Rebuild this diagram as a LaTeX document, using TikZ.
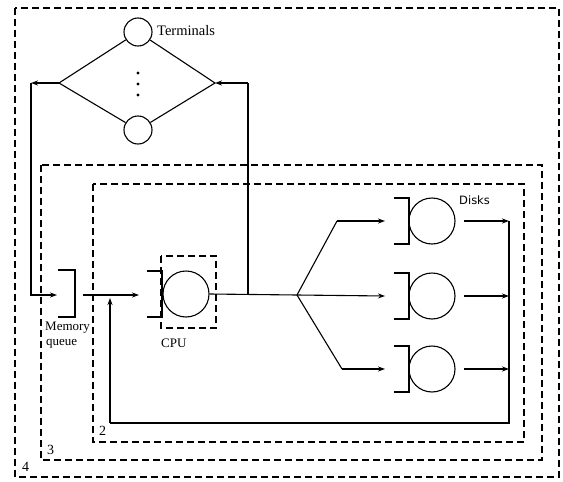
\documentclass[tikz,border=0pt]{standalone}
\usepackage{fontspec}
\setmainfont{Liberation Serif}
\setsansfont{DejaVu Sans}
\usetikzlibrary{arrows.meta}
\begin{document}
\begin{tikzpicture}[x=1pt,y=-1pt,
  ln/.style={line width=1.1pt},
  arr/.style={ln,-{Stealth[length=7pt,width=5pt]}},
  dbox/.style={line width=1.1pt,dash pattern=on 7pt off 4pt},
  term/.style={circle,draw,line width=1.1pt,minimum size=28pt,inner sep=0pt},
  srv/.style={circle,draw,line width=1.1pt,minimum size=46pt,inner sep=0pt},
  lbl/.style={inner sep=0pt,font=\fontsize{13}{15}\selectfont},
  num/.style={inner sep=0pt,font=\fontsize{14}{15}\selectfont}]
\useasboundingbox (0,0) rectangle (563,482);
% dashed boxes
\draw[dbox] (15,8) rectangle (559,477);
\draw[dbox] (41,165) rectangle (542,460);
\draw[dbox] (93,184) rectangle (524,442);
\draw[dbox] (161,256) rectangle (216,328);
% terminals
\node[term] (t1) at (138,32) {};
\node[term] (t2) at (138,130) {};
\coordinate (dl) at (59,83);
\coordinate (dr) at (215,83);
\draw[ln] (dl) -- (t1) (t1) -- (dr) -- (t2) (t2) -- (dl);
\fill (138,73) circle (1.6pt) (138,84) circle (1.6pt) (138,95) circle (1.6pt);
\node[lbl,anchor=west,font=\fontsize{14.5}{16}\selectfont] (tl) at (157,31) {Terminals};
% memory queue
\draw[ln] (58,270) -- (75,270) -- (75,317) -- (58,317);
\coordinate (mqin) at (57,295);
\coordinate (mqout) at (83,295);
\node[lbl,anchor=west] (mql1) at (45,328) {Memory};
\node[lbl,anchor=west] (mql2) at (46,344) {queue};
% CPU
\node[srv] (cpu) at (186,294) {};
\draw[ln] (147,271) -- (162,271) -- (162,317) -- (147,317);
\coordinate (cpuin) at (139,295);
\node[lbl,anchor=west] (cpul) at (161,343) {CPU};
% disks
\node[srv] (d1) at (432,221) {};
\node[srv] (d2) at (432,296) {};
\node[srv] (d3) at (432,369) {};
\foreach \y in {221,296,369}{
  \draw[ln] (394,\y-23) -- (409,\y-23) -- (409,\y+23) -- (394,\y+23);
}
\node[anchor=west,inner sep=0pt,font=\sffamily\fontsize{11.5}{13}\selectfont] (dk) at (459,200) {Disks};
% coordinates
\coordinate (j) at (248,295);
\coordinate (jt) at (248,83);
\coordinate (lc) at (31,83);
\coordinate (lb) at (31,295);
\coordinate (f) at (297,295);
\coordinate (f1) at (337,221);
\coordinate (f3) at (342,369);
\coordinate (i1) at (385,221);
\coordinate (i2) at (385,296);
\coordinate (i3) at (385,369);
\coordinate (o1) at (464,221);
\coordinate (o2) at (464,296);
\coordinate (o3) at (464,369);
\coordinate (c1) at (509,221);
\coordinate (c2) at (509,296);
\coordinate (c3) at (509,369);
\coordinate (cb) at (509,423);
\coordinate (rb) at (110,423);
\coordinate (ru) at (110,298);
% connectors
\draw[arr] (dl) -- (lc);
\draw[arr] (lc) -- (lb) -- (mqin);
\draw[arr] (mqout) -- (cpuin);
\draw[ln] (cpu.east) -- (f);
\draw[ln] (j) -- (jt);
\draw[arr] (jt) -- (dr);
\draw[ln] (f) -- (f1);
\draw[arr] (f1) -- (i1);
\draw[arr] (f) -- (i2);
\draw[ln] (f) -- (f3);
\draw[arr] (f3) -- (i3);
\draw[arr] (o1) -- (c1);
\draw[arr] (o2) -- (c2);
\draw[arr] (o3) -- (c3);
\draw[ln] (c1) -- (cb) -- (rb);
\draw[arr] (rb) -- (ru);
% level numbers
\node[num,anchor=west] (n2) at (99,431) {2};
\node[num,anchor=west] (n3) at (47,450) {3};
\node[num,anchor=west] (n4) at (22,467) {4};
\end{tikzpicture}
\end{document}
